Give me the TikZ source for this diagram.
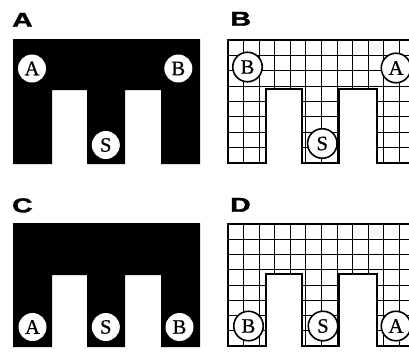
\documentclass[tikz,border=0pt]{standalone}
\usepackage{graphicx}
\usepackage{fontspec}
\setmainfont{Liberation Serif}
\newfontfamily\dotfont[FakeBold=0.6]{Liberation Serif}
\newfontfamily\panelfont[BoldFeatures={FakeBold=1.5}]{Liberation Sans}
\newcommand{\widelabel}[1]{\scalebox{1.42}[1]{#1}}
\begin{document}
\begin{tikzpicture}[x=1pt,y=-1pt,
  panellabel/.style={font=\panelfont\bfseries\fontsize{20}{21}\selectfont, inner sep=0pt, anchor=base west},
  darkdot/.style={circle, fill=white, minimum size=28pt, inner sep=0pt, font=\dotfont\fontsize{20.5}{21}\selectfont},
  griddot/.style={circle, draw=black, line width=1.6pt, fill=white, minimum size=29.5pt, inner sep=0pt, font=\dotfont\fontsize{20.5}{21}\selectfont},
  gridline/.style={line width=0.9pt, black},
  outline/.style={line width=1.9pt, black, line join=miter}]
\useasboundingbox (0,0) rectangle (409,351);
\clip (0,0) rectangle (409,351);

% ---------- Panel A ----------
\node[panellabel] (labA) at (12,26.7) {\widelabel{A}};
\fill[black] (13,39) -- (200,39) -- (200,164) -- (161,164) -- (161,90) -- (125,90) -- (125,164)
  -- (87,164) -- (87,90) -- (52,90) -- (52,164) -- (13,164) -- cycle;
\node[darkdot] (aA) at (32,68.5) {A};
\node[darkdot] (aB) at (178.3,68.5) {B};
\node[darkdot] (aS) at (105.8,145) {S};

% ---------- Panel B ----------
\node[panellabel] (labB) at (230.3,25.7) {\widelabel{B}};
\begin{scope}
  \clip (228,40) -- (415,40) -- (415,163) -- (377,163) -- (377,89) -- (339,89) -- (339,163)
    -- (302,163) -- (302,89) -- (265.7,89) -- (265.7,163) -- (228,163) -- cycle;
  \foreach \k in {0,...,12} \draw[gridline] ({228+\k*15.58},40) -- ({228+\k*15.58},163);
  \foreach \j in {0,...,8} \draw[gridline] (228,{40+\j*15.375}) -- (415,{40+\j*15.375});
\end{scope}
\draw[outline] (228,40) -- (415,40) -- (415,163) -- (377,163) -- (377,89) -- (339,89) -- (339,163)
    -- (302,163) -- (302,89) -- (265.7,89) -- (265.7,163) -- (228,163) -- cycle;
\node[griddot] (bB) at (247.5,67) {B};
\node[griddot] (bA) at (396,68) {A};
\node[griddot] (bS) at (322.3,143.5) {S};

% ---------- Panel C ----------
\node[panellabel] (labC) at (12,212.3) {\widelabel{C}};
\fill[black] (13,223) -- (200,223) -- (200,347) -- (161,347) -- (161,275) -- (125,275) -- (125,347)
  -- (87,347) -- (87,275) -- (52,275) -- (52,347) -- (13,347) -- cycle;
\node[darkdot] (cA) at (32.5,327) {A};
\node[darkdot] (cS) at (105.8,327) {S};
\node[darkdot] (cB) at (179.5,327) {B};

% ---------- Panel D ----------
\node[panellabel] (labD) at (230,211.7) {\widelabel{D}};
\begin{scope}
  \clip (228,224) -- (415,224) -- (415,346) -- (377,346) -- (377,274) -- (339,274) -- (339,346)
    -- (302,346) -- (302,274) -- (265.7,274) -- (265.7,346) -- (228,346) -- cycle;
  \foreach \k in {0,...,12} \draw[gridline] ({228+\k*15.58},224) -- ({228+\k*15.58},346);
  \foreach \j in {0,...,8} \draw[gridline] (228,{224+\j*15.25}) -- (415,{224+\j*15.25});
\end{scope}
\draw[outline] (228,224) -- (415,224) -- (415,346) -- (377,346) -- (377,274) -- (339,274) -- (339,346)
    -- (302,346) -- (302,274) -- (265.7,274) -- (265.7,346) -- (228,346) -- cycle;
\node[griddot] (dB) at (248.5,326) {B};
\node[griddot] (dS) at (323,326) {S};
\node[griddot] (dA) at (396,326) {A};
\end{tikzpicture}
\end{document}
